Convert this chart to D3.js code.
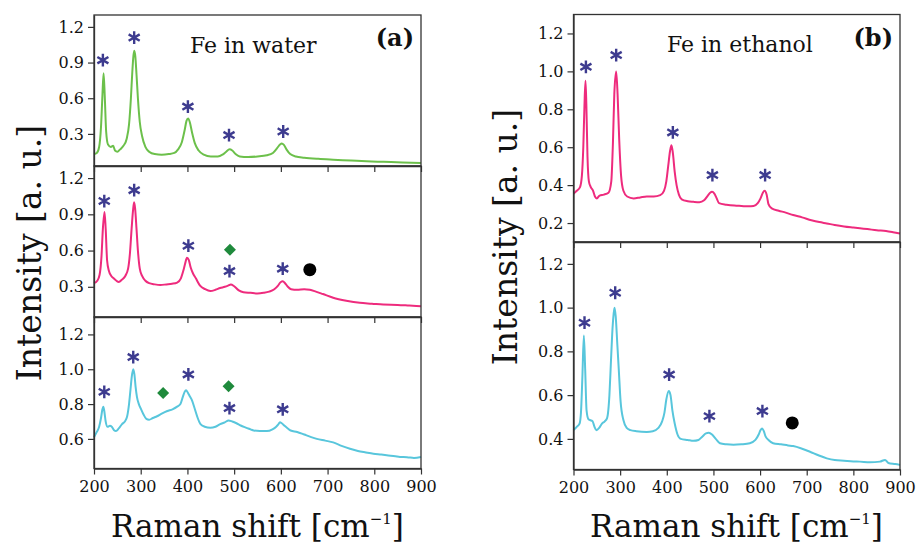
<!DOCTYPE html>
<html>
<head>
<meta charset="utf-8">
<script src="https://cdn.jsdelivr.net/npm/d3@7"></script>
<style>
  body { margin: 0; background: #fff; }
  svg { display: block; }
  text { font-family: "DejaVu Serif", serif; fill: #111; }
</style>
</head>
<body>
<svg id="chart" width="920" height="548"></svg>
<script>
// Raman shift ticks shared by every panel
const ramanTicks = [200, 300, 400, 500, 600, 700, 800, 900];

// y tick values per panel
const ticksWaterTop = [0.3, 0.6, 0.9, 1.2];
const ticksWaterMid = [0.3, 0.6, 0.9, 1.2];
const ticksWaterBot = [0.6, 0.8, 1.0, 1.2];
const ticksEthTop = [0.2, 0.4, 0.6, 0.8, 1.0, 1.2];
const ticksEthBot = [0.4, 0.6, 0.8, 1.0, 1.2];

// spectra, [shift, intensity]
const waterTop = [[200,0.13],[206,0.14],[211,0.19],[215,0.36],[218,0.62],[220.5,0.81],[223,0.62],[226,0.32],[230,0.21],[236,0.19],[241,0.2],[245,0.16],[250,0.15],[256,0.17],[263,0.2],[270,0.26],[275,0.38],[279,0.6],[282,0.82],[284.5,0.96],[286.3,1.0],[288.5,0.95],[291,0.8],[294,0.6],[298,0.4],[303,0.28],[310,0.19],[318,0.15],[330,0.13],[345,0.125],[360,0.13],[372,0.14],[380,0.17],[388,0.23],[394,0.33],[398,0.41],[401.5,0.43],[405,0.4],[410,0.31],[416,0.22],[424,0.16],[435,0.125],[450,0.11],[465,0.11],[475,0.125],[483,0.15],[490,0.17],[496,0.16],[503,0.13],[512,0.11],[530,0.105],[550,0.11],[570,0.12],[583,0.14],[592,0.18],[598,0.21],[602,0.22],[606,0.21],[612,0.17],[620,0.13],[632,0.11],[650,0.1],[680,0.09],[712,0.083],[750,0.076],[783,0.07],[820,0.065],[860,0.06],[900,0.055]];

const waterMid = [[200,0.33],[207,0.35],[212,0.4],[216,0.55],[219,0.78],[222.5,0.92],[225,0.78],[228,0.52],[232,0.43],[237,0.39],[242,0.37],[248,0.35],[253,0.34],[260,0.36],[267,0.39],[273,0.45],[277,0.58],[280.5,0.78],[283.5,0.93],[285.8,1.0],[288,0.95],[291,0.78],[294,0.6],[298,0.45],[303,0.39],[310,0.35],[318,0.33],[330,0.32],[342,0.315],[355,0.32],[367,0.325],[378,0.335],[386,0.37],[391,0.43],[395,0.49],[399,0.54],[403,0.52],[407,0.46],[412,0.41],[418,0.37],[427,0.31],[438,0.28],[449,0.265],[460,0.275],[470,0.29],[480,0.3],[487,0.31],[493,0.32],[500,0.305],[510,0.27],[520,0.255],[535,0.25],[550,0.245],[563,0.25],[575,0.26],[586,0.28],[594,0.31],[600,0.34],[604,0.345],[609,0.33],[615,0.3],[622,0.28],[635,0.275],[650,0.28],[662,0.275],[675,0.26],[690,0.24],[712,0.21],[740,0.185],[769,0.167],[795,0.16],[819,0.153],[850,0.15],[875,0.145],[900,0.14]];

const waterBot = [[200,0.61],[206,0.64],[211,0.67],[215,0.72],[218,0.77],[220,0.785],[222,0.76],[225,0.7],[229,0.67],[234,0.675],[238,0.67],[243,0.65],[247,0.645],[253,0.66],[260,0.685],[266,0.7],[271,0.73],[275,0.8],[278,0.88],[281,0.96],[284,1.0],[286.5,0.97],[289,0.9],[292,0.84],[296,0.8],[300,0.775],[306,0.74],[312,0.715],[318,0.71],[326,0.72],[335,0.73],[345,0.745],[357,0.76],[368,0.77],[378,0.785],[385,0.8],[390,0.84],[394,0.87],[397,0.88],[401,0.865],[405,0.845],[410,0.82],[416,0.77],[422,0.72],[428,0.685],[437,0.67],[449,0.664],[460,0.67],[470,0.685],[480,0.695],[488,0.706],[496,0.7],[505,0.69],[514,0.677],[525,0.665],[535,0.655],[542,0.648],[555,0.645],[570,0.645],[582,0.655],[590,0.67],[595,0.685],[598,0.696],[602,0.69],[608,0.675],[615,0.66],[621,0.648],[635,0.64],[650,0.625],[665,0.61],[677,0.6],[695,0.59],[712,0.58],[730,0.56],[748,0.543],[765,0.53],[782,0.522],[798,0.515],[815,0.51],[830,0.505],[845,0.5],[855,0.496],[870,0.495],[885,0.49],[900,0.496]];

const ethTop = [[200,0.355],[207,0.37],[214,0.39],[218,0.45],[221,0.6],[223.5,0.82],[225.7,0.95],[227.5,0.83],[230,0.55],[233,0.42],[237,0.39],[242,0.37],[246,0.34],[250,0.33],[256,0.345],[265,0.35],[275,0.36],[281,0.42],[284.5,0.62],[287.5,0.88],[291.5,1.0],[294.5,0.88],[298,0.64],[302,0.45],[307,0.37],[315,0.34],[329,0.33],[343,0.335],[357,0.34],[372,0.34],[386,0.347],[394,0.37],[399,0.42],[403,0.5],[407,0.58],[410,0.61],[413,0.57],[417,0.47],[421,0.4],[426,0.35],[432,0.325],[445,0.315],[457,0.312],[470,0.31],[480,0.32],[488,0.345],[493,0.36],[497,0.365],[502,0.355],[507,0.33],[512,0.305],[528,0.297],[545,0.292],[560,0.29],[575,0.288],[586,0.29],[595,0.305],[601,0.33],[606,0.36],[610,0.37],[614,0.35],[618,0.3],[625,0.277],[640,0.265],[655,0.255],[671,0.242],[690,0.23],[710,0.215],[727,0.205],[743,0.198],[760,0.19],[780,0.182],[800,0.176],[814,0.172],[830,0.168],[850,0.162],[870,0.158],[885,0.152],[900,0.145]];

const ethBot = [[200,0.44],[207,0.455],[213,0.47],[216,0.52],[219,0.68],[222.2,0.873],[225,0.72],[228,0.53],[232,0.49],[237,0.485],[241,0.48],[245,0.455],[249,0.44],[255,0.45],[261,0.47],[267,0.48],[272,0.495],[277,0.6],[280,0.74],[283,0.88],[286,0.97],[288,1.0],[290.5,0.96],[294,0.83],[297,0.72],[301,0.57],[307,0.486],[314,0.45],[322,0.44],[335,0.435],[357,0.432],[370,0.435],[382,0.45],[390,0.48],[395,0.52],[399,0.58],[404.3,0.619],[408,0.6],[412,0.53],[417,0.47],[423,0.42],[430,0.4],[445,0.395],[457,0.391],[468,0.395],[476,0.41],[484,0.425],[490,0.428],[497,0.42],[505,0.4],[514,0.38],[528,0.375],[543,0.373],[560,0.375],[578,0.38],[590,0.395],[597,0.42],[601,0.44],[604.3,0.448],[608,0.435],[612,0.41],[618,0.395],[628,0.38],[645,0.375],[660,0.37],[671,0.367],[690,0.355],[707,0.341],[725,0.325],[743,0.311],[760,0.303],[780,0.3],[800,0.297],[814,0.296],[835,0.293],[857,0.296],[868,0.304],[875,0.29],[890,0.285],[900,0.281]];

// peak markers, [shift, intensity]
const starsWaterTop = [[219,0.92],[286,1.11],[401,0.53],[489,0.29],[605,0.32]];
const starsWaterMid = [[222,1.01],[286,1.10],[402,0.64],[490,0.43],[604,0.45]];
const starsWaterBot = [[222,0.87],[284,1.07],[402,0.97],[490,0.777],[604,0.77]];
const starsEthTop = [[226.6,1.024],[291.5,1.086],[413,0.678],[497.8,0.453],[610.8,0.453]];
const starsEthBot = [[223.6,0.931],[289.4,1.068],[405,0.694],[491.4,0.504],[605,0.527]];
const diamondsWaterMid = [[491,0.607]];
const diamondsWaterBot = [[348,0.863],[488,0.902]];
const dotsWaterMid = [[662,0.442]];
const dotsEthBot = [[669,0.473]];

const svg = d3.select("#chart");
const starColor = "#3d3b8f", diamondColor = "#1f8a3c", frameColor = "#333";

const panelA = {left: 94, right: 421};
const panelB = {left: 573.5, right: 900};

const panels = [
  {...panelA, top: 15, bottom: 166, dom: [0.03, 1.3], ticks: ticksWaterTop, data: waterTop, color: "#6cc04b", stars: starsWaterTop},
  {...panelA, top: 166, bottom: 317, dom: [0.05, 1.3], ticks: ticksWaterMid, data: waterMid, color: "#ee2b7d", stars: starsWaterMid, diamonds: diamondsWaterMid, dots: dotsWaterMid},
  {...panelA, top: 317, bottom: 468.5, dom: [0.43, 1.3], ticks: ticksWaterBot, data: waterBot, color: "#58c6dc", stars: starsWaterBot, diamonds: diamondsWaterBot, labels: true},
  {...panelB, top: 14.5, bottom: 242, dom: [0.1, 1.3], ticks: ticksEthTop, data: ethTop, color: "#ee2b7d", stars: starsEthTop},
  {...panelB, top: 242, bottom: 469.5, dom: [0.26, 1.3], ticks: ticksEthBot, data: ethBot, color: "#58c6dc", stars: starsEthBot, dots: dotsEthBot, labels: true}
];

function drawPanel(p) {
  const x = d3.scaleLinear().domain([200, 900]).range([p.left, p.right]);
  const y = d3.scaleLinear().domain(p.dom).range([p.bottom, p.top]);
  const g = svg.append("g");

  const line = d3.line()
    .x(d => x(d[0]))
    .y(d => y(d[1]))
    .curve(d3.curveMonotoneX);

  g.append("path")
    .datum(p.data)
    .attr("fill", "none")
    .attr("stroke", p.color)
    .attr("stroke-width", 2)
    .attr("stroke-linejoin", "round")
    .attr("d", line);

  g.append("rect")
    .attr("x", p.left).attr("y", p.top)
    .attr("width", p.right - p.left).attr("height", p.bottom - p.top)
    .attr("fill", "none").attr("stroke", frameColor).attr("stroke-width", 1.3);

  const xAxis = d3.axisBottom(x).tickValues(ramanTicks)
    .tickSize(6).tickSizeOuter(0).tickPadding(6);
  if (!p.labels) xAxis.tickFormat("");
  const gx = g.append("g").attr("transform", `translate(0,${p.bottom})`).call(xAxis);

  const yAxis = d3.axisLeft(y).tickValues(p.ticks).tickFormat(d3.format(".1f"))
    .tickSize(6).tickSizeOuter(0).tickPadding(4);
  const gy = g.append("g").attr("transform", `translate(${p.left},0)`).call(yAxis);

  [gx, gy].forEach(a => {
    a.select(".domain").attr("stroke", frameColor).attr("stroke-width", 1.3);
    a.selectAll(".tick line").attr("stroke", frameColor).attr("stroke-width", 1.2);
    a.selectAll(".tick text").attr("font-family", "DejaVu Serif, serif").attr("font-size", 16).attr("fill", "#222");
  });

  const star = d3.symbol(d3.symbolAsterisk).size(115);
  g.selectAll(".star").data(p.stars).join("path")
    .attr("transform", d => `translate(${x(d[0])},${y(d[1])})`)
    .attr("d", star)
    .attr("fill", "none").attr("stroke", starColor).attr("stroke-width", 2.4);

  const diamond = d3.symbol(d3.symbolSquare).size(72);
  g.selectAll(".diamond").data(p.diamonds || []).join("path")
    .attr("transform", d => `translate(${x(d[0])},${y(d[1])}) rotate(45)`)
    .attr("d", diamond)
    .attr("fill", diamondColor);

  g.selectAll(".dot").data(p.dots || []).join("circle")
    .attr("cx", d => x(d[0])).attr("cy", d => y(d[1]))
    .attr("r", 6.5).attr("fill", "#000");
}

panels.forEach(drawPanel);

// panel texts
svg.append("text").attr("x", 190).attr("y", 53).attr("font-size", 22).text("Fe in water");
svg.append("text").attr("x", 414).attr("y", 46).attr("text-anchor", "end")
  .attr("font-size", 24).attr("font-weight", "bold").text("(a)");
svg.append("text").attr("x", 667).attr("y", 52).attr("font-size", 22).text("Fe in ethanol");
svg.append("text").attr("x", 893).attr("y", 46).attr("text-anchor", "end")
  .attr("font-size", 24).attr("font-weight", "bold").text("(b)");

// axis titles
function xTitle(cx) {
  const t = svg.append("text").attr("x", cx).attr("y", 537)
    .attr("text-anchor", "middle").attr("font-size", 31);
  t.append("tspan").text("Raman shift [cm");
  t.append("tspan").attr("font-size", 15).attr("dy", -13).text("\u22121");
  t.append("tspan").attr("dy", 13).text("]");
}
xTitle(257.5);
xTitle(736.5);

function yTitle(bx, cy) {
  svg.append("text")
    .attr("transform", `translate(${bx},${cy}) rotate(-90)`)
    .attr("text-anchor", "middle").attr("font-size", 33)
    .text("Intensity [a. u.]");
}
yTitle(41, 253);
yTitle(517, 237);
</script>
</body>
</html>
